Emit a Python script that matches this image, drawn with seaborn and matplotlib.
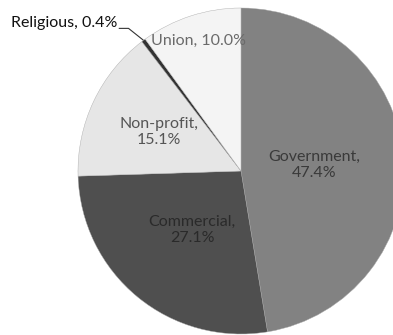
import matplotlib
matplotlib.use("Agg")
import matplotlib.pyplot as plt
import seaborn as sns
import numpy as np

categories = ["Government", "Commercial", "Non-profit", "Religious", "Union"]
shares = [47.4, 27.1, 15.1, 0.4, 10.0]
label_texts = ["Government,\n47.4%", "Commercial,\n27.1%", "Non-profit,\n15.1%",
               "Religious, 0.4%", "Union, 10.0%"]

sns.set_theme(style="white")
plt.rcParams['font.family'] = ['Lato', 'DejaVu Sans']

colors = ["#828282", "#4f4f4f", "#e6e6e6", "#333333", "#f4f4f4"]
text_colors = ["#3a3a3a", "#2a2a2a", "#555555", "#111111", "#6a6a6a"]
label_r = [0.45, 0.47, 0.56, None, 0.84]

W, H = 393, 335
fig = plt.figure(figsize=(W / 100, H / 100), dpi=100)
cx, cy, R = 241, 171, 163
ax = fig.add_axes([(cx - R) / W, (H - cy - R) / H, 2 * R / W, 2 * R / H])
ax.axis("off")

wedges, _ = ax.pie(shares, colors=colors, startangle=90, counterclock=False,
                   radius=1.0, wedgeprops=dict(linewidth=0.3, edgecolor="#aaaaaa"))
ax.set_xlim(-1, 1)
ax.set_ylim(-1, 1)

for i, w in enumerate(wedges):
    mid = np.deg2rad((w.theta1 + w.theta2) / 2)
    if label_r[i] is not None:
        r = label_r[i]
        ax.text(r * np.cos(mid), r * np.sin(mid), label_texts[i], ha="center", va="center",
                fontsize=11.5, color=text_colors[i], linespacing=1.2)
    else:
        ex, ey = np.cos(mid), np.sin(mid)
        tx, ty = -0.76, 0.905
        ax.plot([tx + 0.01, tx + 0.07, ex], [ty - 0.03, ty - 0.03, ey],
                color="#333333", lw=0.8, solid_capstyle="butt")
        ax.text(tx, ty, label_texts[i], ha="right", va="center",
                fontsize=11.5, color=text_colors[i])

fig.savefig("out.png", dpi=100)
